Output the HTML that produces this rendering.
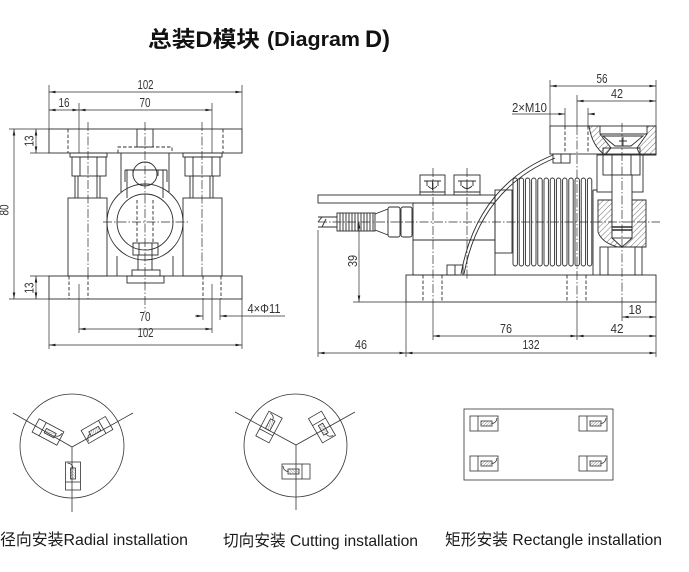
<!DOCTYPE html>
<html><head><meta charset="utf-8"><style>
html,body{margin:0;padding:0;background:#fff;}
svg{display:block;}
.d{stroke-dasharray:3.5 2;}
.c{stroke-dasharray:9 2 1.5 2;}
.t{stroke-width:0.7;}
.dt{font-family:"Liberation Sans",sans-serif;font-size:12.5px;fill:#333;stroke:none;text-anchor:middle;}
</style></head><body>
<svg width="689" height="572" viewBox="0 0 689 572" xmlns="http://www.w3.org/2000/svg">
<defs>
<marker id="a" viewBox="0 0 10 4" refX="10" refY="2" markerWidth="7" markerHeight="2.6" markerUnits="userSpaceOnUse" orient="auto-start-reverse"><path d="M0,0L10,2L0,4Z" fill="#222"/></marker>
<pattern id="hp" width="4" height="4" patternUnits="userSpaceOnUse" patternTransform="rotate(45)"><line x1="0" y1="0" x2="0" y2="4" stroke="#333" stroke-width="0.7"/></pattern>
<pattern id="sp" width="2" height="2" patternUnits="userSpaceOnUse" patternTransform="rotate(45)"><line x1="0" y1="0" x2="0" y2="2" stroke="#555" stroke-width="0.7"/></pattern>
<g id="s"><rect x="0" y="0" width="28" height="15"/><line x1="8" y1="0" x2="8" y2="15"/><rect x="11" y="5" width="11" height="5" fill="url(#sp)"/><path d="M22,7.5 Q26.5,7 27,2"/></g>
</defs>

<!-- Title -->
<text x="148" y="47" font-family="'Liberation Sans','Noto Sans CJK SC',sans-serif" font-size="22" font-weight="bold" fill="#111" textLength="112" lengthAdjust="spacingAndGlyphs">总装D模块</text>
<text x="267" y="46" font-family="'Liberation Sans',sans-serif" font-size="20" font-weight="bold" fill="#111" textLength="93" lengthAdjust="spacingAndGlyphs">(Diagram</text>
<text x="365" y="47" font-family="'Liberation Sans',sans-serif" font-size="24" font-weight="bold" fill="#111" textLength="25" lengthAdjust="spacingAndGlyphs">D)</text>

<g fill="none" stroke="#2b2b2b" stroke-width="0.9">
<!-- ================= LEFT DRAWING ================= -->
<rect x="49" y="129" width="193" height="24"/>
<rect x="49" y="276" width="193" height="23"/>
<rect x="68" y="198" width="39" height="78"/>
<rect x="183" y="198" width="39" height="78"/>
<!-- nuts -->
<rect x="70" y="153" width="37" height="4"/>
<rect x="72" y="157" width="34" height="19"/>
<path d="M80,157V176M97,157V176"/>
<rect x="183" y="153" width="39" height="4"/>
<rect x="185" y="157" width="35" height="19"/>
<path d="M193,157V176M212,157V176"/>
<!-- rods -->
<path d="M75,176V198M78,176V198M97,176V198M100,176V198M190,176V198M193,176V198M210,176V198M213,176V198"/>
<!-- hidden lines -->
<path class="d" d="M68,129V153M223,129V153M69,276V299M88,276V299M203,276V299M221,276V299M137,200V243M153,200V243"/>
<!-- centerlines -->
<path class="c t" d="M88,122V276M202,122V276M145,122V312M103,222H190"/>
<!-- center ring -->
<circle cx="145" cy="222" r="38"/>
<circle cx="145" cy="222" r="28"/>
<path class="d" d="M118,153V147H172V153"/>
<rect x="137" y="129" width="16" height="18"/>
<path d="M121,153V192M169,153V192"/>
<path d="M127,198V170M163,198V170M125,170H167M125,170V182M133,170V176M158,170V176M167,170V182"/>
<circle cx="145" cy="174" r="12"/>
<rect x="133" y="243" width="25" height="12"/>
<path d="M139,243V255M152,243V255"/>
<path d="M138,255V270M152,255V270"/>
<rect x="132" y="270" width="28" height="6"/>
<rect x="127" y="276" width="37" height="7"/>
<path d="M117,256V276M173,256V276"/>

<!-- left dims -->
<path class="t" d="M49,85V129M242,85V129M79,103V153M212,103V153M9,129H49M9,299H49M30,153H49M30,276H49M79,284V333M212,284V333M49,299V349M242,299V349M203,299V320M220,299V320"/>
<g class="t" marker-start="url(#a)" marker-end="url(#a)">
<line x1="49" y1="92" x2="242" y2="92"/>
<line x1="49" y1="110" x2="79" y2="110"/>
<line x1="79" y1="110" x2="212" y2="110"/>
<line x1="14" y1="129" x2="14" y2="299"/>
<line x1="36" y1="129" x2="36" y2="153"/>
<line x1="36" y1="276" x2="36" y2="299"/>
<line x1="79" y1="329" x2="212" y2="329"/>
<line x1="49" y1="345" x2="242" y2="345"/>
</g>
<line class="t" x1="195" y1="316" x2="203" y2="316" marker-end="url(#a)"/>
<line class="t" x1="285" y1="316" x2="220" y2="316" marker-end="url(#a)"/>

<!-- ================= RIGHT DRAWING ================= -->
<!-- top block -->
<rect x="550" y="126" width="106" height="28"/>
<path d="M589,126 L600,126 L600,134 L611,148 L605,155 Q592,146 589,126 Z" fill="url(#hp)"/>
<path d="M647,126 L656,126 L656,155 L640,155 L637,148 L647,134 Z" fill="url(#hp)"/>
<path d="M600,134H647M603,136H643L631,146H615Z"/>
<path d="M623,137V146M619,141H627"/>
<rect x="603" y="148" width="37" height="7"/>
<path class="d" d="M565,126V154M588,126V154"/>
<!-- small nut below top block -->
<rect x="553" y="154" width="17" height="9"/>
<path d="M561,154V163"/>
<!-- bracket & nut -->
<rect x="597" y="155" width="46" height="37"/>
<rect x="603" y="155" width="37" height="20" fill="#fff"/>
<path d="M612,155V175M631,155V175"/>
<!-- lower housing -->
<path d="M598,200 L612,200 L612,238 L622,247 L618,247 Q602,243 598,232 Z" fill="url(#hp)"/>
<path d="M632,200 L646,200 L646,247 L622,247 L632,238 Z" fill="url(#hp)"/>
<rect x="612" y="175" width="20" height="63" fill="#fff"/>
<path d="M612,227H632M612,230H632" stroke-width="1.4"/>
<!-- column -->
<rect x="600" y="247" width="42" height="28"/>
<path d="M608,247V275M635,247V275M593,190V275M593,190H597"/>
<!-- bellows -->
<g>
<rect x="513" y="178" width="4.4" height="88" rx="2.2"/>
<rect x="519.2" y="178" width="4.4" height="88" rx="2.2"/>
<rect x="525.4" y="178" width="4.4" height="88" rx="2.2"/>
<rect x="531.6" y="178" width="4.4" height="88" rx="2.2"/>
<rect x="537.8" y="178" width="4.4" height="88" rx="2.2"/>
<rect x="544" y="178" width="4.4" height="88" rx="2.2"/>
<rect x="550.2" y="178" width="4.4" height="88" rx="2.2"/>
<rect x="556.4" y="178" width="4.4" height="88" rx="2.2"/>
<rect x="562.6" y="178" width="4.4" height="88" rx="2.2"/>
<rect x="568.8" y="178" width="4.4" height="88" rx="2.2"/>
<rect x="575" y="178" width="4.4" height="88" rx="2.2"/>
<rect x="581.2" y="178" width="4.4" height="88" rx="2.2"/>
<rect x="587.4" y="178" width="4.4" height="88" rx="2.2"/>
</g>
<rect x="495" y="190" width="17" height="63"/>
<!-- main block + top plate -->
<rect x="318" y="195" width="177" height="8"/>
<rect x="413" y="203" width="82" height="72"/>
<path d="M413,240H495"/>
<!-- top bolts -->
<rect x="420" y="175" width="25" height="20"/>
<rect x="454" y="175" width="26" height="20"/>
<path d="M424,181H441M427,181V186M432.5,181V190M438,181V186M428,186Q432.5,191 437,186M458,181H476M461,181V186M467,181V190M473,181V186M462,186Q467,191 472,186M420,192H445M454,192H480"/>
<!-- connector -->
<path d="M318,217H337M318,227H337M318,222L322,217M322,227L326,219"/>
<rect x="337" y="213" width="38" height="18"/>
<path d="M340,213V231M343,213V231M346,213V231M349,213V231M352,213V231M355,213V231M358,213V231M361,213V231M364,213V231M367,213V231M370,213V231M373,213V231"/>
<path d="M375,214L388,209M375,230L388,235"/>
<rect x="388" y="207" width="12" height="30" rx="2"/>
<rect x="401" y="207" width="11" height="30" rx="2"/>
<!-- base -->
<rect x="406" y="275" width="250" height="27"/>
<path class="d" d="M423,275V302M442,275V302M567,275V302M586,275V302"/>
<!-- cable -->
<path d="M461,274 Q477,186 553,155"/>
<path d="M464,274 Q480,189 555,158"/>
<rect x="447" y="265" width="16" height="10"/>
<path d="M455,265V275"/>
<!-- centerlines -->
<path class="c t" d="M318,222H660M577,126V302M433,168V302M467,168V280M622,123V302"/>
<!-- right dims ext -->
<path class="t" d="M550,80V126M656,80V126M577,95V126M565,108V126M588,108V126M577,302V340M433,302V340M622,302V321M656,302V357M318,230V357M406,302V357M353,302H406"/>
<g class="t" marker-start="url(#a)" marker-end="url(#a)">
<line x1="550" y1="86" x2="656" y2="86"/>
<line x1="577" y1="101" x2="656" y2="101"/>
<line x1="359" y1="222" x2="359" y2="302"/>
<line x1="622" y1="317" x2="656" y2="317"/>
<line x1="433" y1="336" x2="577" y2="336"/>
<line x1="577" y1="336" x2="656" y2="336"/>
<line x1="318" y1="353" x2="406" y2="353"/>
<line x1="406" y1="353" x2="656" y2="353"/>
</g>
<line class="t" x1="512" y1="114" x2="565" y2="114" marker-end="url(#a)"/>
<line class="t" x1="595" y1="114" x2="588" y2="114" marker-end="url(#a)"/>
</g>

<!-- dim texts left -->
<text class="dt" x="145.5" y="89" textLength="16" lengthAdjust="spacingAndGlyphs">102</text>
<text class="dt" x="64" y="107" textLength="11" lengthAdjust="spacingAndGlyphs">16</text>
<text class="dt" x="145" y="107" textLength="11" lengthAdjust="spacingAndGlyphs">70</text>
<text class="dt" transform="translate(8.5,210) rotate(-90)" textLength="11" lengthAdjust="spacingAndGlyphs">80</text>
<text class="dt" transform="translate(33.5,141) rotate(-90)" textLength="11" lengthAdjust="spacingAndGlyphs">13</text>
<text class="dt" transform="translate(33.5,288) rotate(-90)" textLength="11" lengthAdjust="spacingAndGlyphs">13</text>
<text class="dt" x="145" y="321" textLength="11" lengthAdjust="spacingAndGlyphs">70</text>
<text class="dt" x="145.5" y="337" textLength="16" lengthAdjust="spacingAndGlyphs">102</text>
<text class="dt" x="264" y="313" textLength="33" lengthAdjust="spacingAndGlyphs">4×Φ11</text>
<!-- dim texts right -->
<text class="dt" x="602" y="83" textLength="11" lengthAdjust="spacingAndGlyphs">56</text>
<text class="dt" x="617" y="98" textLength="12" lengthAdjust="spacingAndGlyphs">42</text>
<text class="dt" x="529.5" y="112" textLength="35" lengthAdjust="spacingAndGlyphs">2×M10</text>
<text class="dt" transform="translate(357,261) rotate(-90)" textLength="12" lengthAdjust="spacingAndGlyphs">39</text>
<text class="dt" x="506" y="333" textLength="12" lengthAdjust="spacingAndGlyphs">76</text>
<text class="dt" x="617" y="333" textLength="13" lengthAdjust="spacingAndGlyphs">42</text>
<text class="dt" x="635" y="314" textLength="13" lengthAdjust="spacingAndGlyphs">18</text>
<text class="dt" x="361" y="349" textLength="12" lengthAdjust="spacingAndGlyphs">46</text>
<text class="dt" x="531" y="349" textLength="17" lengthAdjust="spacingAndGlyphs">132</text>

<!-- ================= BOTTOM DIAGRAMS ================= -->
<g fill="none" stroke="#333" stroke-width="0.8">
<!-- radial -->
<circle cx="72" cy="446" r="52"/>
<path d="M13,413L72,447L133,413M72,447V512"/>
<use href="#s" transform="translate(48,432) rotate(28) translate(-14,-7.5)"/>
<use href="#s" transform="translate(97,430) rotate(150) translate(-14,-7.5)"/>
<use href="#s" transform="translate(73,476) rotate(-90) translate(-14,-7.5)"/>
<!-- cutting -->
<circle cx="295.5" cy="445.5" r="51.5"/>
<path d="M235,412L296,445L355,412M296,445V510"/>
<use href="#s" transform="translate(269,427) rotate(-62) translate(-14,-7.5)"/>
<use href="#s" transform="translate(322,427) rotate(60) translate(-14,-7.5)"/>
<use href="#s" transform="translate(310,464) scale(-1,1)"/>
<!-- rectangle -->
<rect x="464" y="409" width="149" height="71"/>
<use href="#s" transform="translate(470,416)"/>
<use href="#s" transform="translate(579,416)"/>
<use href="#s" transform="translate(470,456)"/>
<use href="#s" transform="translate(579,456)"/>
</g>

<g font-family="'Liberation Sans','Noto Sans CJK SC',sans-serif" font-size="16" fill="#1a1a1a">
<text x="0" y="545" textLength="188" lengthAdjust="spacingAndGlyphs">径向安装Radial installation</text>
<text x="223" y="546" textLength="195" lengthAdjust="spacingAndGlyphs">切向安装 Cutting installation</text>
<text x="445" y="545" textLength="217" lengthAdjust="spacingAndGlyphs">矩形安装 Rectangle installation</text>
</g>
</svg>
</body></html>
